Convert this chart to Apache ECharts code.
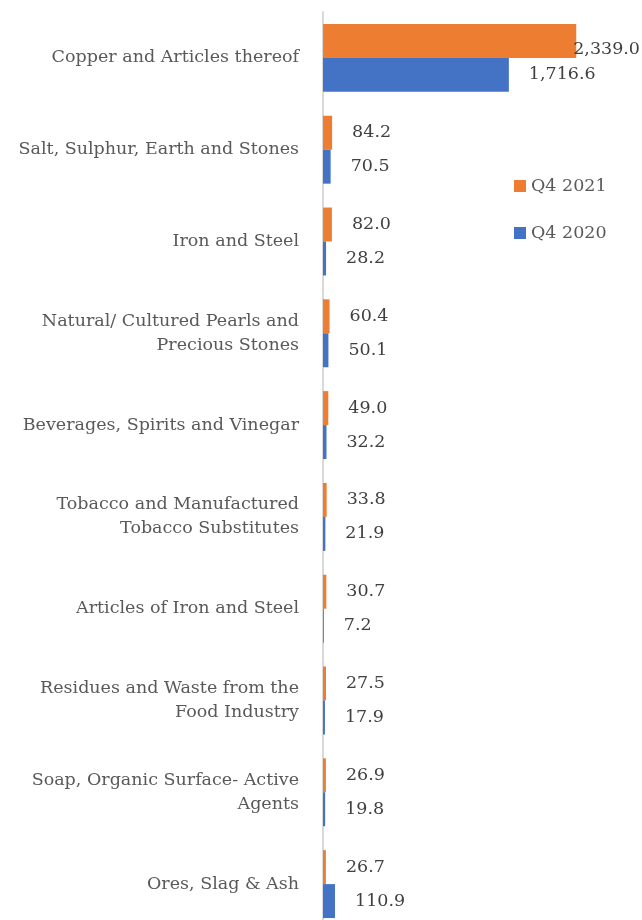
<!DOCTYPE html>
<html>
<head>
<meta charset="UTF-8">
<style>
html, body { margin: 0; padding: 0; background: #fff; }
#chart { width: 642px; height: 920px; }
</style>
</head>
<body>
<div id="chart"></div>
<script src="https://cdn.jsdelivr.net/npm/echarts@6/dist/echarts.min.js"></script>
<script>
var categories = [
	'Copper and Articles thereof',
	'Salt, Sulphur, Earth and Stones',
	'Iron and Steel',
	'Natural/ Cultured Pearls and\nPrecious Stones',
	'Beverages, Spirits and Vinegar',
	'Tobacco and Manufactured\nTobacco Substitutes',
	'Articles of Iron and Steel',
	'Residues and Waste from the\nFood Industry',
	'Soap, Organic Surface- Active\nAgents',
	'Ores, Slag & Ash'
];
var q42021 = [2339.0, 84.2, 82.0, 60.4, 49.0, 33.8, 30.7, 27.5, 26.9, 26.7];
var q42020 = [1716.6, 70.5, 28.2, 50.1, 32.2, 21.9, 7.2, 17.9, 19.8, 110.9];

var font = 'DejaVu Serif';

function fmt(p) {
	return p.value.toLocaleString('en-US', {minimumFractionDigits: 1, maximumFractionDigits: 1});
}

var chart = echarts.init(document.getElementById('chart'));
var labelStyle = {
	show: true,
	position: 'right',
	distance: 20,
	formatter: fmt,
	color: '#404040',
	fontFamily: font,
	fontSize: 17.5
};

chart.setOption({
	animation: false,
	grid: { left: 323, width: 314, top: 12, height: 918, outerBoundsMode: 'none', containLabel: false },
	legend: {
		orient: 'vertical',
		left: 509,
		top: 171,
		itemGap: 27,
		itemWidth: 12,
		itemHeight: 12,
		icon: 'rect',
		textStyle: { fontFamily: font, fontSize: 17.5, lineHeight: 20, color: '#595959' },
		data: ['Q4 2021', 'Q4 2020']
	},
	xAxis: {
		type: 'value',
		min: 0,
		max: 2900,
		show: false
	},
	yAxis: {
		type: 'category',
		inverse: true,
		data: categories,
		axisLine: { lineStyle: { color: '#d9d9d9', width: 2 } },
		axisTick: { show: false },
		axisLabel: {
			margin: 24,
			color: '#595959',
			fontFamily: font,
			fontSize: 17.5,
			lineHeight: 24,
			align: 'right'
		}
	},
	labelLayout: function (p) {
		var r = p.labelRect;
		if (r.x + r.width > 640) {
			return { x: 640 - r.width };
		}
	},
	series: [
		{
			name: 'Q4 2021',
			type: 'bar',
			data: q42021,
			barWidth: '37%',
			barGap: '0%',
			itemStyle: { color: '#ed7d31' },
			label: labelStyle
		},
		{
			name: 'Q4 2020',
			type: 'bar',
			data: q42020,
			barWidth: '37%',
			barGap: '0%',
			itemStyle: { color: '#4472c4' },
			label: labelStyle
		}
	]
});
</script>
</body>
</html>
